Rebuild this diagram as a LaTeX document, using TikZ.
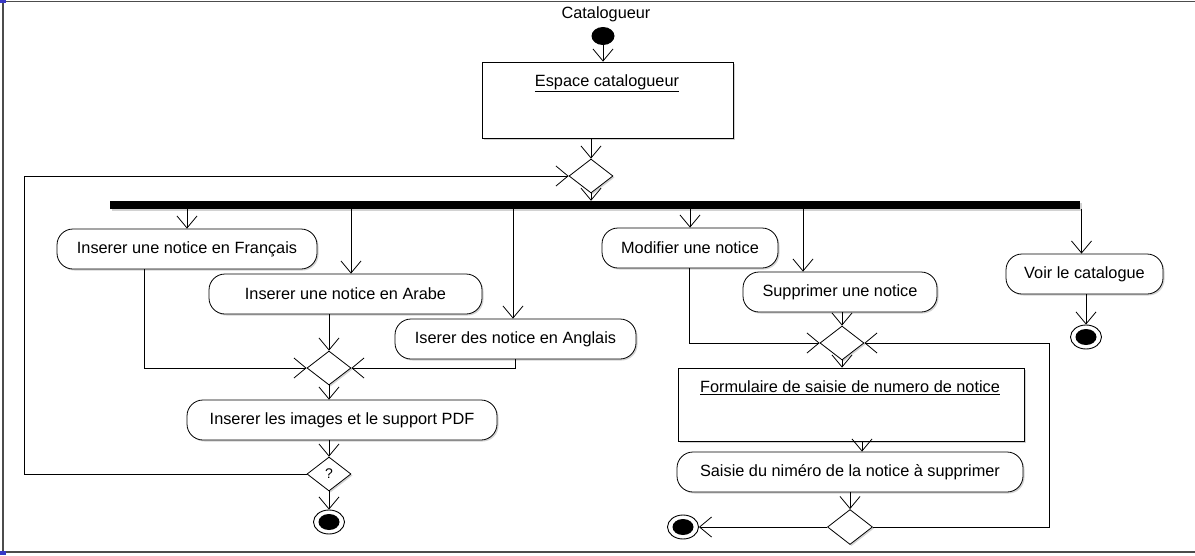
\documentclass[tikz,border=0pt]{standalone}
\usepackage{fontspec}
\setmainfont{Liberation Sans}
\usetikzlibrary{arrows.meta,shapes.geometric,shadows}
\newcommand\actsize{\fontsize{16.3}{19}\selectfont}
\begin{document}
\begin{tikzpicture}[x=1pt,y=-1pt,
  flow/.style={draw=black, line width=0.8pt, -{Straight Barb[length=12pt,width=20pt]}},
  softshadow/.style={drop shadow={shadow xshift=1.5pt,shadow yshift=-1.5pt,fill=black!35}},
  action/.style={draw, line width=0.8pt, fill=white, rounded corners=16pt, minimum height=40pt, inner sep=0pt, font=\actsize, softshadow},
  objbox/.style={draw, line width=0.8pt, fill=white, inner sep=0pt, softshadow},
  decision/.style={draw, diamond, line width=0.8pt, fill=white, minimum width=44pt, minimum height=34pt, inner sep=0pt, softshadow},
  finalnode/.style={draw, ellipse, line width=0.9pt, fill=white, minimum width=31pt, minimum height=24pt, inner sep=0pt},
  caption/.style={font=\actsize, inner sep=0pt}
]
\useasboundingbox (0,0) rectangle (1195,555);

% outer frame and corner handles
\draw[line width=1.8pt, black!70] (1195,1.5) -- (3,1.5) -- (3,552) -- (1195,552);
\fill[blue!55!gray] (0,0) rectangle (6,3);
\fill[blue!55!gray] (0,551) rectangle (6,555);

% start
\node[caption] (actor) at (606,14) {Catalogueur};
\node[fill=black, ellipse, minimum width=23pt, minimum height=18pt, inner sep=0pt] (init) at (603,36) {};
\node[objbox, minimum width=251pt, minimum height=76pt] (esp) at (607.5,100) {};
\node[caption] (esptitle) at (607,83) {\underline{Espace catalogueur}};
\node[decision] (d0) at (591,176) {};
\node[fill=black, minimum width=970pt, minimum height=8pt, inner sep=0pt, softshadow] (bar) at (595,205) {};

% insertion branch
\node[action, minimum width=260pt] (fr) at (187,249) {Inserer une notice en Français};
\node[action, minimum width=273pt] (ar) at (345.5,294) {Inserer une notice en Arabe};
\node[action, minimum width=241pt] (an) at (515.5,339) {Iserer des notice en Anglais};
\node[decision] (m1) at (329,368) {};
\node[action, minimum width=310pt] (pdf) at (342,420) {Inserer les images et le support PDF};
\node[decision, font=\fontsize{14}{16}\selectfont] (q) at (329,474) {?};
\node[finalnode] (fin1) at (329,522) {};

% modification / deletion branch
\node[action, minimum width=176pt] (mo) at (690,248) {Modifier une notice};
\node[action, minimum width=194pt] (su) at (840,292) {Supprimer une notice};
\node[decision] (m2) at (842,343) {};
\node[objbox, minimum width=346pt, minimum height=73pt] (form) at (851,404.5) {};
\node[caption] (formtitle) at (850,388) {\underline{Formulaire de saisie de numero de notice}};
\node[action, minimum width=346pt] (sa) at (850,472) {Saisie du niméro de la notice à supprimer};
\node[decision, minimum width=45pt, minimum height=35pt] (d3) at (850,527) {};
\node[finalnode] (fin3) at (683,527) {};

% catalogue view
\node[action, minimum width=157pt] (vo) at (1084.5,274) {Voir le catalogue};
\node[finalnode] (fin2) at (1086,337) {};

% final node cores
\foreach \f in {fin1,fin2,fin3}
  \fill (\f.center) ellipse [x radius=10.5pt, y radius=8pt];

% loop-back guides
\coordinate (lp) at (24,0);
\coordinate (rp) at (1049,0);

% connectors
\draw[flow] (init.south) -- (init.south |- esp.north);
\draw[flow] (d0.north |- esp.south) -- (d0.north);
\draw[flow] (d0.south) -- (d0.south |- bar.north);

\draw[flow] (fr.north |- bar.south) -- (fr.north);
\draw[flow] ([xshift=5.5pt]ar.north |- bar.south) -- ([xshift=5.5pt]ar.north);
\draw[flow] ([xshift=-2.5pt]an.north |- bar.south) -- ([xshift=-2.5pt]an.north);
\draw[flow] (mo.north |- bar.south) -- (mo.north);
\draw[flow] ([xshift=-37pt]su.north |- bar.south) -- ([xshift=-37pt]su.north);
\draw[flow] ([xshift=-3pt]vo.north |- bar.south) -- ([xshift=-3pt]vo.north);

\draw[flow] ([xshift=-43pt]fr.south) |- (m1.west);
\draw[flow] (m1.north |- ar.south) -- (m1.north);
\draw[flow] (an.south) |- (m1.east);
\draw[flow] (m1.south) -- (m1.south |- pdf.north);
\draw[flow] (q.north |- pdf.south) -- (q.north);
\draw[flow] (q.south) -- (fin1.north);
\draw[flow] (q.west) -- (q.west -| lp) -- (lp |- d0.west) -- (d0.west);

\draw[flow] ([xshift=-1pt]mo.south) |- (m2.west);
\draw[flow] (m2.north |- su.south) -- (m2.north);
\draw[flow] (m2.south) -- (m2.south |- form.north);
\draw[flow] ([xshift=11pt]form.south) -- ([xshift=11pt]form.south |- sa.north);
\draw[flow] (sa.south) -- (d3.north);
\draw[flow] (d3.west) -- (fin3.east);
\draw[flow] (d3.east) -- (d3.east -| rp) -- (rp |- m2.east) -- (m2.east);

\draw[flow] ([xshift=1.5pt]vo.south) -- (fin2.north);
\end{tikzpicture}
\end{document}
